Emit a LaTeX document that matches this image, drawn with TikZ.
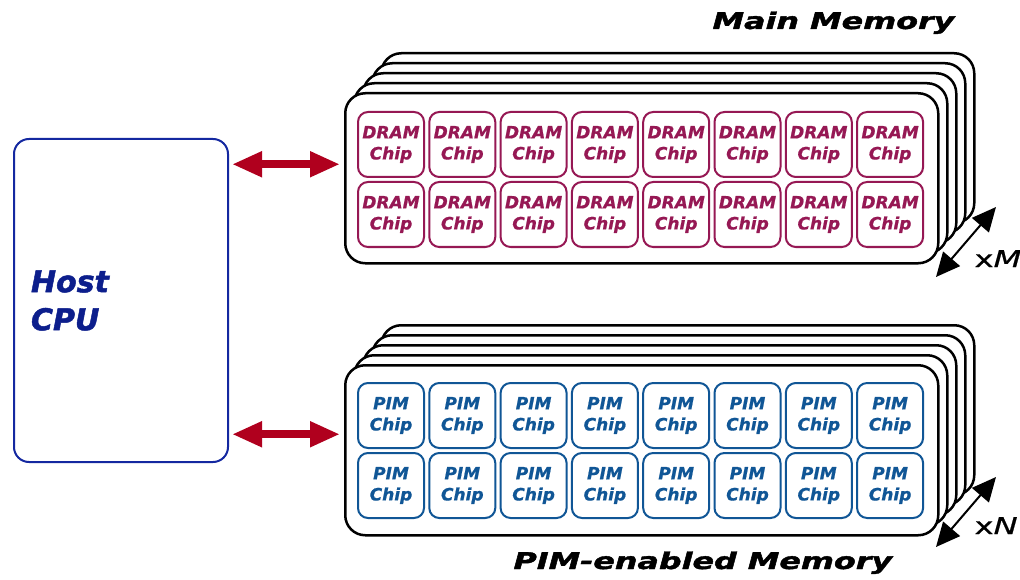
\documentclass[tikz,border=0pt]{standalone}
\usepackage{fontspec}
\setmainfont{DejaVu Sans}
\newfontfamily\heavyfont{DejaVu Sans}[BoldItalicFeatures={FakeBold=1.6}]
\newfontfamily\chipfont{DejaVu Sans}[BoldItalicFeatures={FakeBold=0.8}]
\newfontfamily\multfont{DejaVu Sans}[UprightFeatures={FakeBold=0.6},ItalicFeatures={FakeBold=0.6}]
\usetikzlibrary{arrows.meta,calc}
\definecolor{dramc}{RGB}{150,24,84}
\definecolor{pimc}{RGB}{16,86,150}
\definecolor{cpub}{RGB}{20,40,160}
\definecolor{cput}{RGB}{12,30,140}
\definecolor{arrc}{RGB}{176,0,30}
\begin{document}
\begin{tikzpicture}[x=1pt,y=-1pt,
  board/.style={draw=black,fill=white,line width=2.5pt,rounded corners=20pt,minimum width=593pt,minimum height=170pt,inner sep=0pt,anchor=north west},
  chip/.style={line width=2pt,rounded corners=10pt,minimum width=66pt,minimum height=65pt,inner sep=0pt,anchor=north west,align=center,font=\chipfont\bfseries\itshape\fontsize{17}{21}\selectfont},
  dram/.style={chip,draw=dramc,text=dramc},
  pim/.style={chip,draw=pimc,text=pimc},
  cpubox/.style={draw=cpub,line width=2pt,rounded corners=15pt,minimum width=214pt,minimum height=323pt,inner xsep=17pt,text width=180pt,align=left,anchor=north west,text=cput,font=\heavyfont\bfseries\itshape\fontsize{30}{38}\selectfont},
  link/.style={arrc,line width=8pt,{Triangle[length=30pt,width=24pt]}-{Triangle[length=30pt,width=24pt]}},
  cnt/.style={black,line width=2pt,{Triangle[length=24pt,width=22pt]}-{Triangle[length=24pt,width=22pt]}},
  title/.style={anchor=base west,font=\heavyfont\bfseries\itshape\fontsize{23}{26}\selectfont},
  mult/.style={anchor=base west,font=\multfont\fontsize{23}{26}\selectfont},
]
\useasboundingbox (0,0) rectangle (1020,580);

% Host CPU
\node[cpubox] (cpu) at (13,138) {Host\\CPU};

% Main memory boards
\foreach \k in {4,3,2,1,0}
  \node[board] (mm\k) at ({344+9*\k},{92-10*\k}) {};
\foreach \r in {0,1}
  \foreach \c in {0,...,7}
    \node[dram] (d\r\c) at ($(mm0.north west)+({13+71.3*\c},{19+70*\r})$) {DRAM\\Chip};

% PIM boards
\foreach \k in {4,3,2,1,0}
  \node[board] (pm\k) at ({344+9*\k},{364-10*\k}) {};
\foreach \r in {0,1}
  \foreach \c in {0,...,7}
    \node[pim] (p\r\c) at ($(pm0.north west)+({13+71.3*\c},{18+70*\r})$) {PIM\\Chip};

% links
\draw[link] ($(cpu.east|-mm0.west)+(3,-14)$) -- ($(mm0.west)+(-4,-14)$);
\draw[link] ($(cpu.east|-pm0.west)+(3,-16)$) -- ($(pm0.west)+(-4,-16)$);

% multiplicity arrows
\coordinate (mA) at (936,277);
\coordinate (mB) at (996,207);
\coordinate (nA) at (936,547);
\coordinate (nB) at (996,477);
\draw[cnt] (mA) -- (mB);
\draw[cnt] (nA) -- (nB);
\node[mult] (xm) at (971,267) {\scalebox{1.4}[1]{x\textit{M}}};
\node[mult] (xn) at (971,534) {\scalebox{1.4}[1]{x\textit{N}}};

% titles
\node[title] (tmain) at (709,29) {\scalebox{1.38}[1]{Main Memory}};
\node[title] (tpim) at (510,569) {\scalebox{1.38}[1]{PIM-enabled Memory}};
\end{tikzpicture}
\end{document}
